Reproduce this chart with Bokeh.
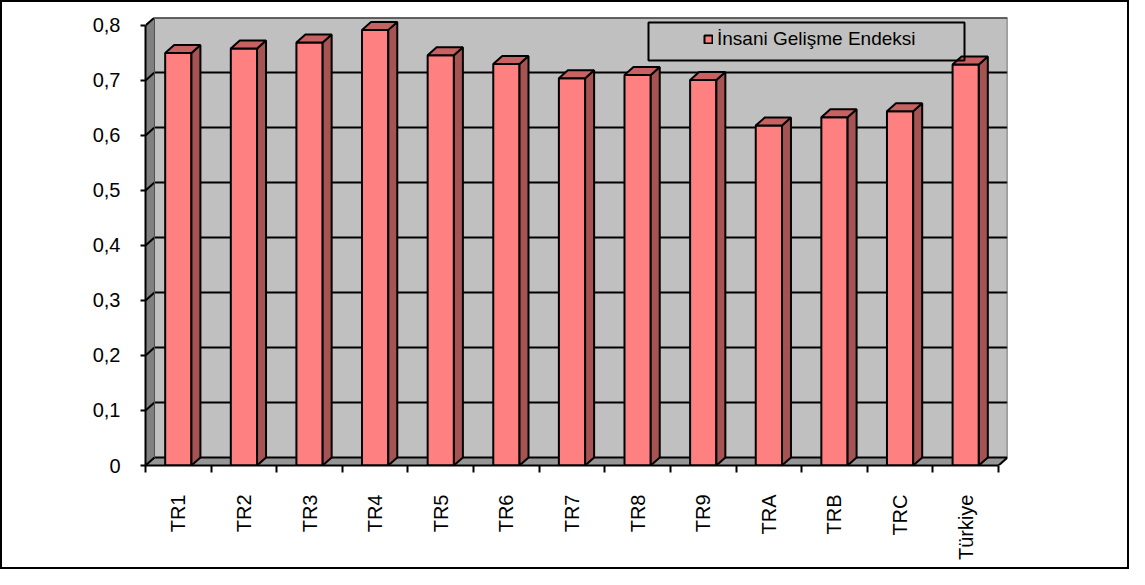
import math
import numpy as np
from bokeh.plotting import figure
from bokeh.models import Range1d, FixedTicker, Legend, LegendItem, BoxAnnotation
from bokeh.embed import file_html
from bokeh.resources import INLINE

# ---- data ----
categories = ["TR1", "TR2", "TR3", "TR4", "TR5", "TR6", "TR7", "TR8", "TR9",
              "TRA", "TRB", "TRC", "Türkiye"]
hdi = [0.750, 0.758, 0.769, 0.792, 0.746, 0.730, 0.704, 0.710, 0.701,
       0.618, 0.633, 0.644, 0.729]
y_ticks = [0.0, 0.1, 0.2, 0.3, 0.4, 0.5, 0.6, 0.7, 0.8]
y_tick_labels = ["0", "0,1", "0,2", "0,3", "0,4", "0,5", "0,6", "0,7", "0,8"]
series_name = "İnsani Gelişme Endeksi"

# ---- style / geometry ----
DX = 0.137     # 3D depth offset (category units)
DY = 0.0145    # 3D depth offset (value units)
HALF = 0.2     # half bar width
FONT = "Liberation Sans"
n = len(categories)
ymax = y_ticks[-1]
centers = np.arange(n) + 0.5
v = np.array(hdi)

MB_L, MB_R, MB_T, MB_B = 143, 124, 15, 106
W, H = 1129, 569

p = figure(width=W, height=H, output_backend="svg", toolbar_location=None,
           x_range=Range1d(0, n + DX), y_range=Range1d(0, ymax + DY),
           min_border_left=MB_L, min_border_right=MB_R, min_border_top=MB_T,
           min_border_bottom=MB_B)
p.background_fill_color = "white"
p.border_fill_color = "white"
p.outline_line_color = None
p.xgrid.visible = False
p.ygrid.visible = False
p.styles = {"border": "2px solid black", "box-sizing": "border-box"}

# walls and floor
p.quad(left=DX, right=n + DX, bottom=DY, top=ymax + DY,
       fill_color="#C0C0C0", line_color=None)
p.patch([0, DX, DX, 0], [0, DY, ymax + DY, ymax],
        fill_color="#808080", line_color=None)
p.patch([0, n, n + DX, DX], [0, 0, DY, DY],
        fill_color="#969696", line_color=None)

# gridlines on back wall and left wall
yt = np.array(y_ticks)
p.segment(x0=[DX] * len(yt), y0=yt + DY, x1=[n + DX] * len(yt), y1=yt + DY,
          line_color="black", line_width=2)
p.segment(x0=[0] * len(yt), y0=yt, x1=[DX] * len(yt), y1=yt + DY,
          line_color="black", line_width=2)
# wall edges
p.line([DX, n + DX, n + DX], [ymax + DY, ymax + DY, DY],
       line_color="#505050", line_width=1.5)
p.line([DX, DX], [DY, ymax + DY], line_color="#505050", line_width=1)
p.line([n, n + DX], [0, DY], line_color="black", line_width=2)

# bars (3D look)
front = p.quad(left=centers - HALF, right=centers + HALF, bottom=0, top=v,
               fill_color="#FF8080", line_color="black", line_width=2)
side_xs = [[c + HALF, c + HALF + DX, c + HALF + DX, c + HALF] for c in centers]
side_ys = [[0, DY, val + DY, val] for val in v]
p.patches(side_xs, side_ys, fill_color="#A65353", line_color="black", line_width=2)
top_xs = [[c - HALF, c + HALF, c + HALF + DX, c - HALF + DX] for c in centers]
top_ys = [[val, val, val + DY, val + DY] for val in v]
p.patches(top_xs, top_ys, fill_color="#C86262", line_color="black", line_width=2)

# x axis
xa = p.xaxis[0]
xa.ticker = FixedTicker(ticks=list(centers), minor_ticks=list(range(n + 1)))
xa.major_label_overrides = {float(c): lab for c, lab in zip(centers, categories)}
xa.major_label_orientation = math.pi / 2
xa.bounds = (0, n)
xa.axis_line_color = "black"
xa.axis_line_width = 2
xa.major_tick_line_color = None
xa.major_tick_out = 0
xa.major_tick_in = 0
xa.minor_tick_line_color = "black"
xa.minor_tick_line_width = 2
xa.minor_tick_out = 7
xa.minor_tick_in = 0
xa.major_label_standoff = 22
xa.major_label_text_font = FONT
xa.major_label_text_font_size = "20px"
xa.major_label_text_color = "black"

# y axis
ya = p.yaxis[0]
ya.ticker = FixedTicker(ticks=y_ticks)
ya.major_label_overrides = {t: lab for t, lab in zip(y_ticks, y_tick_labels)}
ya.bounds = (0, ymax)
ya.axis_line_color = "black"
ya.axis_line_width = 2
ya.major_tick_line_color = "black"
ya.major_tick_line_width = 2
ya.major_tick_out = 5
ya.major_tick_in = 0
ya.minor_tick_line_color = None
ya.major_label_standoff = 20
ya.major_label_text_font = FONT
ya.major_label_text_font_size = "20px"
ya.major_label_text_color = "black"

# legend (frame drawn as a box annotation, entry via Bokeh's Legend)
frame_w = W - MB_L - MB_R
frame_h = H - MB_T - MB_B
sx = frame_w / (n + DX)
sy = frame_h / (ymax + DY)
box = BoxAnnotation(left=503 / sx, right=819 / sx,
                    top=(frame_h - 5) / sy, bottom=(frame_h - 43) / sy,
                    fill_color=None, fill_alpha=0, line_color="black",
                    line_width=2, line_alpha=1)
p.add_layout(box)
legend = Legend(items=[LegendItem(label=series_name, renderers=[front])],
                location=(548, frame_h - 43), glyph_width=10, glyph_height=10,
                label_height=18, padding=10, margin=0, spacing=0,
                label_standoff=4, label_text_font=FONT,
                label_text_font_size="19px", label_text_color="black",
                border_line_alpha=0, background_fill_alpha=0)
p.add_layout(legend)

open("out.html", "w").write(file_html(p, INLINE))
